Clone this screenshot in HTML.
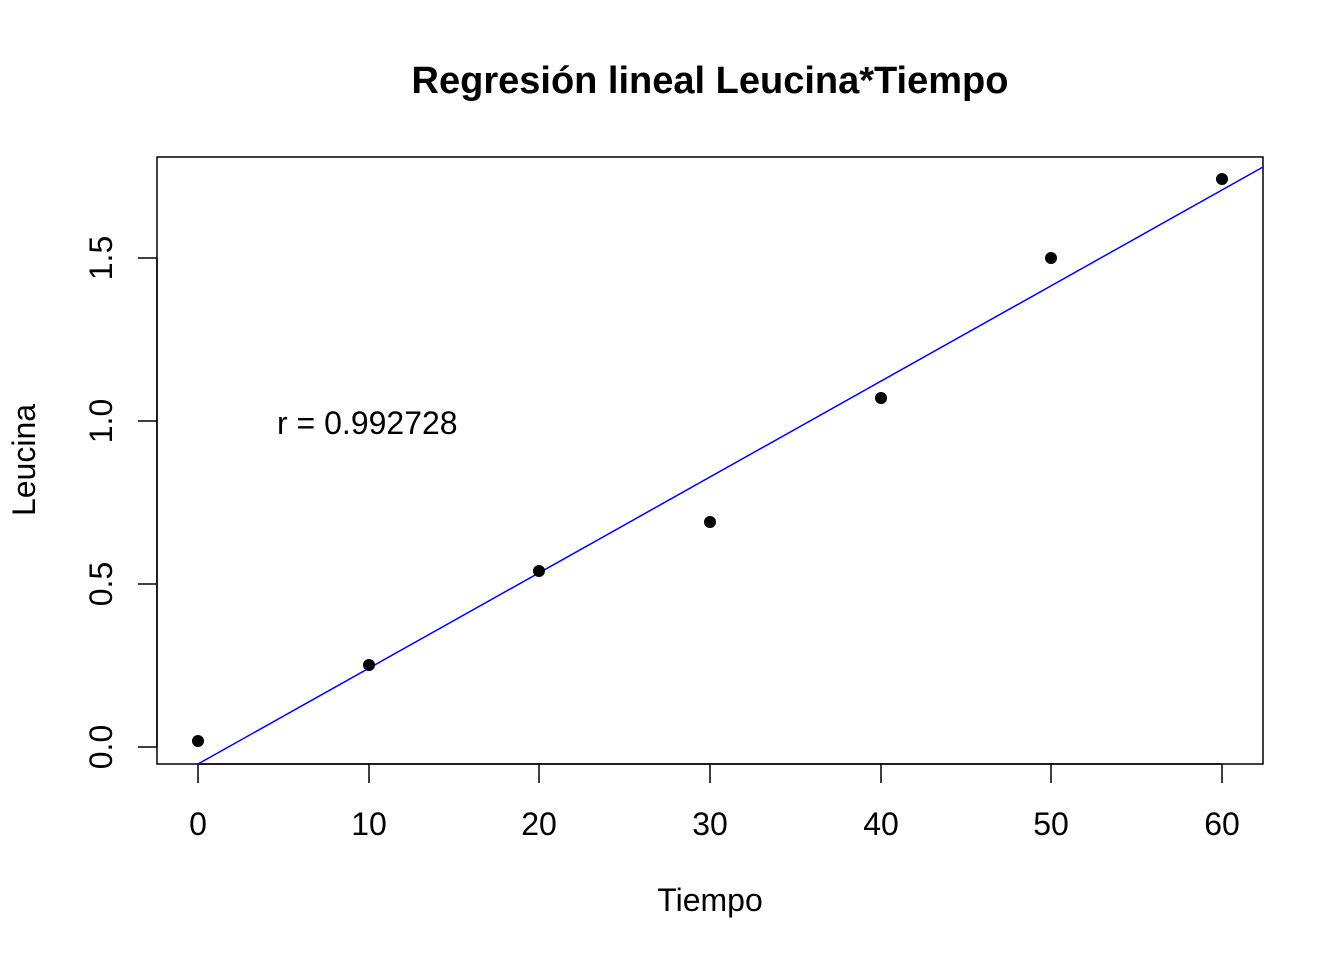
<!DOCTYPE html>
<html><head><meta charset="utf-8"><style>body{margin:0;background:#fff}</style></head><body>
<svg width="1344" height="960" xmlns="http://www.w3.org/2000/svg" font-family="Liberation Sans, Arial, sans-serif">
<rect width="1344" height="960" fill="#fff"/>
<text x="710" y="93" text-anchor="middle" font-size="38" font-weight="bold">Regresión lineal Leucina*Tiempo</text>
<rect x="157" y="157" width="1106" height="607" fill="none" stroke="#000" stroke-width="1.5"/>
<g stroke="#000" stroke-width="1.5">
<line x1="198" y1="764" x2="1222" y2="764"/>
<line x1="198" y1="764" x2="198" y2="783"/><line x1="369" y1="764" x2="369" y2="783"/><line x1="539" y1="764" x2="539" y2="783"/><line x1="710" y1="764" x2="710" y2="783"/><line x1="881" y1="764" x2="881" y2="783"/><line x1="1051" y1="764" x2="1051" y2="783"/><line x1="1222" y1="764" x2="1222" y2="783"/>
<line x1="157" y1="747" x2="157" y2="258"/>
<line x1="138" y1="747" x2="157" y2="747"/><line x1="138" y1="584" x2="157" y2="584"/><line x1="138" y1="421" x2="157" y2="421"/><line x1="138" y1="258" x2="157" y2="258"/>
</g>
<g font-size="32" text-anchor="middle">
<text x="198" y="835">0</text><text x="369" y="835">10</text><text x="539" y="835">20</text><text x="710" y="835">30</text><text x="881" y="835">40</text><text x="1051" y="835">50</text><text x="1222" y="835">60</text>
<text transform="translate(112,747) rotate(-90)">0.0</text>
<text transform="translate(112,584) rotate(-90)">0.5</text>
<text transform="translate(112,421) rotate(-90)">1.0</text>
<text transform="translate(112,258) rotate(-90)">1.5</text>
<text x="710" y="911">Tiempo</text>
<text transform="translate(35,460) rotate(-90)">Leucina</text>
</g>
<text x="277" y="434" font-size="32">r = 0.992728</text>
<line x1="198" y1="764" x2="1263" y2="167" stroke="#0000ff" stroke-width="1.5"/>
<g fill="#000">
<circle cx="198" cy="741" r="6"/><circle cx="369" cy="665" r="6"/><circle cx="539" cy="571" r="6"/><circle cx="710" cy="522" r="6"/><circle cx="881" cy="398" r="6"/><circle cx="1051" cy="258" r="6"/><circle cx="1222" cy="179" r="6"/>
</g>
</svg>
</body></html>
